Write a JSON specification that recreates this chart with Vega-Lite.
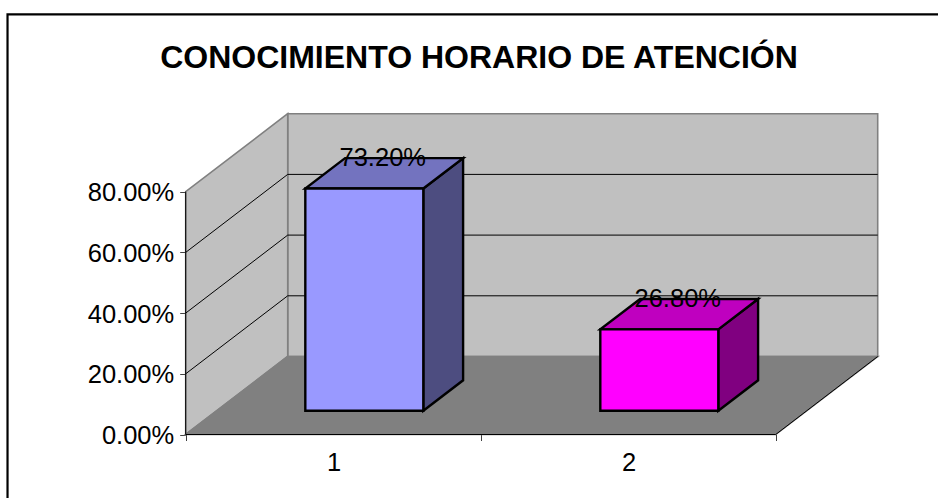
{
"$schema":"https://vega.github.io/schema/vega-lite/v6.json",
"width":938,"height":498,"padding":0,"autosize":{"type":"none"},
"background":"white",
"config":{"view":{"stroke":null},"font":"Liberation Sans"},
"title":{"text":"CONOCIMIENTO HORARIO DE ATENCIÓN","anchor":"middle","frame":"group","dx":10,"dy":79,"fontSize":32,"font":"Liberation Sans","fontWeight":"bold","color":"black"},
"datasets":{
"bars":[
{"category":1,"value":0.732,"depth":0.305},{"category":1,"value":0.732,"depth":0.695},
{"category":2,"value":0.268,"depth":0.305},{"category":2,"value":0.268,"depth":0.695}],
"frame":[{"px":-0.604,"px2":2.7,"py":-0.3,"py2":1.384}],
"backWall":[{"px":0.3458,"px2":2.3458,"py":0.257,"py2":1.057}],
"sideWall":[{"px":0,"py":0,"py2":0.8},{"px":0.3458,"py":0.257,"py2":1.057}],
"floor":[{"py":0,"px":0,"px2":2},{"py":0.257,"px":0.3458,"px2":2.3458}],
"lines":[
{"line":"g20","seq":1,"px":0,"py":0.2},{"line":"g20","seq":2,"px":0.3458,"py":0.457},{"line":"g20","seq":3,"px":2.3458,"py":0.457},
{"line":"g40","seq":1,"px":0,"py":0.4},{"line":"g40","seq":2,"px":0.3458,"py":0.657},{"line":"g40","seq":3,"px":2.3458,"py":0.657},
{"line":"g60","seq":1,"px":0,"py":0.6},{"line":"g60","seq":2,"px":0.3458,"py":0.857},{"line":"g60","seq":3,"px":2.3458,"py":0.857}],
"axisLines":[
{"line":"y","seq":1,"px":0,"py":0.8},{"line":"y","seq":2,"px":0,"py":0},
{"line":"x","seq":1,"px":0,"py":0},{"line":"x","seq":2,"px":2,"py":0},{"line":"x","seq":3,"px":2.3458,"py":0.257}]
},
"encoding":{
"x":{"field":"px","type":"quantitative","scale":{"domain":[-0.6295,2.5502],"nice":false,"zero":false},
"axis":{"orient":"bottom","offset":-63.5,"title":null,"grid":false,"domain":false,"values":[0,1,2],"tickColor":"#404040","tickSize":6,"labelOffset":148,"labelExpr":"datum.value<2?datum.value+1:''","labelFontSize":25.5,"labelColor":"black","labelPadding":10,"labelFont":"Liberation Sans"}},
"y":{"field":"py","type":"quantitative","stack":null,"scale":{"domain":[-0.2092,1.4316],"nice":false,"zero":false},
"axis":{"orient":"left","offset":-185.7,"title":null,"grid":false,"domain":false,"values":[0,0.2,0.4,0.6,0.8],"format":".2%","tickColor":"#404040","tickSize":6,"labelFontSize":25.5,"labelColor":"black","labelPadding":6,"labelOffset":1,"labelFont":"Liberation Sans"}}
},
"layer":[
{"data":{"name":"frame"},"mark":{"type":"rect","fill":null,"stroke":"black","strokeWidth":2.2},"encoding":{"x2":{"field":"px2"},"y2":{"field":"py2"}}},
{"data":{"name":"backWall"},"mark":{"type":"rect","fill":"#C0C0C0","stroke":"#808080","strokeWidth":1.6},"encoding":{"x2":{"field":"px2"},"y2":{"field":"py2"}}},
{"data":{"name":"sideWall"},"mark":{"type":"area","orient":"vertical","fill":"#C0C0C0","stroke":"#808080","strokeWidth":1.6},"encoding":{"y2":{"field":"py2"}}},
{"data":{"name":"lines"},"mark":{"type":"line","stroke":"black","strokeWidth":1},"encoding":{"detail":{"field":"line"},"order":{"field":"seq"}}},
{"data":{"name":"floor"},"mark":{"type":"area","orient":"horizontal","fill":"#808080","stroke":"#808080","strokeWidth":1.6},"encoding":{"x2":{"field":"px2"}}},
{"data":{"name":"axisLines"},"mark":{"type":"line","stroke":"black","strokeWidth":1},"encoding":{"detail":{"field":"line"},"order":{"field":"seq"}}},
{"data":{"name":"bars"},
"transform":[{"calculate":"datum.category-1+0.7+datum.depth*0.3458","as":"px"},{"calculate":"datum.depth*0.257","as":"py"},{"calculate":"datum.value+datum.depth*0.257","as":"py2"}],
"mark":{"type":"area","orient":"vertical","stroke":"black","strokeWidth":2.4,"strokeJoin":"miter"},
"encoding":{"y2":{"field":"py2"},"fill":{"field":"category","type":"nominal","legend":null,"scale":{"domain":[1,2],"range":["#4D4D80","#800080"]}}}},
{"data":{"name":"bars"},
"transform":[{"calculate":"datum.category-1+0.3+datum.depth*0.3458","as":"px"},{"calculate":"datum.px+0.4","as":"px2"},{"calculate":"datum.value+datum.depth*0.257","as":"py"}],
"mark":{"type":"area","orient":"horizontal","stroke":"black","strokeWidth":2.4,"strokeJoin":"miter"},
"encoding":{"x2":{"field":"px2"},"fill":{"field":"category","type":"nominal","legend":null,"scale":{"domain":[1,2],"range":["#7373BF","#BF00BF"]}}}},
{"data":{"name":"bars"},
"transform":[{"filter":"datum.depth<0.5"},{"calculate":"datum.category-1+0.3+datum.depth*0.3458","as":"px"},{"calculate":"datum.px+0.4","as":"px2"},{"calculate":"datum.depth*0.257","as":"py"},{"calculate":"datum.value+datum.depth*0.257","as":"py2"}],
"mark":{"type":"rect","stroke":"black","strokeWidth":2.4},
"encoding":{"x2":{"field":"px2"},"y2":{"field":"py2"},"fill":{"field":"category","type":"nominal","legend":null,"scale":{"domain":[1,2],"range":["#9999FF","#FF00FF"]}}}},
{"data":{"name":"bars"},
"transform":[{"filter":"datum.depth<0.5"},{"calculate":"datum.category-1+0.668","as":"px"},{"calculate":"datum.value+0.1786","as":"py"}],
"mark":{"type":"text","fontSize":25.5,"font":"Liberation Sans","color":"black","baseline":"middle","align":"center","dy":0},
"encoding":{"text":{"field":"value","type":"quantitative","format":".2%"}}}
],
"resolve":{"scale":{"fill":"independent"}}
}
